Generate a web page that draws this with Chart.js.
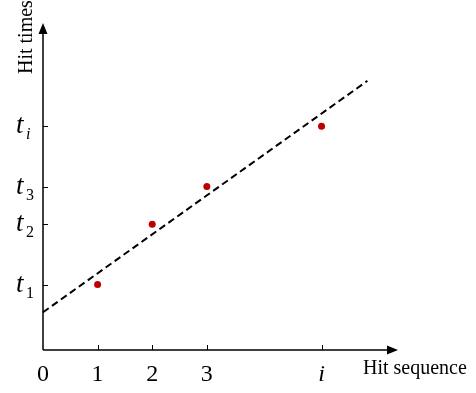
<!DOCTYPE html>
<html>
<head>
<meta charset="utf-8">
<script src="https://cdn.jsdelivr.net/npm/chart.js@4"></script>
<style>
  html, body { margin: 0; padding: 0; background: #fff; }
  canvas { display: block; }
</style>
</head>
<body>
<canvas id="hitChart" width="476" height="393"></canvas>
<script>
// measured hits (x = hit sequence, y = hit time)
const hitSeq = [1, 2, 3, 5.1];
const hitTimes = [1.3, 2.5, 3.25, 4.45];
// dashed fit line endpoints
const fitX = [0, 5.94];
const fitY = [0.75, 5.35];
// axis ticks
const xTicks = [0, 1, 2, 3, 5.1];
const xTickLabels = ['0', '1', '2', '3', 'i'];
const yTicks = [1.3, 2.5, 3.25, 4.45];
const yTickSubs = ['1', '2', '3', 'i'];
const xTitle = 'Hit sequence';
const yTitle = 'Hit times';

const serif = "'Liberation Serif', 'Times New Roman', serif";

const arrowAxes = {
  id: 'arrowAxes',
  beforeDatasetsDraw(chart) {
    const { ctx, chartArea: a, scales: { x, y } } = chart;
    const x0 = x.getPixelForValue(0);
    const y0 = y.getPixelForValue(0);
    ctx.save();
    ctx.strokeStyle = '#000';
    ctx.fillStyle = '#000';

    // axis lines
    ctx.lineWidth = 1.5;
    ctx.beginPath();
    ctx.moveTo(x0, y0); ctx.lineTo(a.right - 8, y0);
    ctx.moveTo(x0, y0); ctx.lineTo(x0, a.top + 8);
    ctx.stroke();

    // arrow heads
    ctx.beginPath();
    ctx.moveTo(a.right, y0); ctx.lineTo(a.right - 11, y0 - 4.5); ctx.lineTo(a.right - 11, y0 + 4.5); ctx.closePath();
    ctx.moveTo(x0, a.top); ctx.lineTo(x0 - 4.5, a.top + 11); ctx.lineTo(x0 + 4.5, a.top + 11); ctx.closePath();
    ctx.fill();

    // tick marks, pointing into the plot
    ctx.lineWidth = 1;
    ctx.beginPath();
    xTicks.forEach(v => {
      if (v === 0) return;
      const px = Math.round(x.getPixelForValue(v)) + 0.5;
      ctx.moveTo(px, y0); ctx.lineTo(px, y0 - 5);
    });
    yTicks.forEach(v => {
      const py = Math.round(y.getPixelForValue(v)) + 0.5;
      ctx.moveTo(x0, py); ctx.lineTo(x0 + 5, py);
    });
    ctx.stroke();

    // x tick labels
    ctx.textAlign = 'center';
    ctx.textBaseline = 'alphabetic';
    xTicks.forEach((v, i) => {
      const lbl = xTickLabels[i];
      ctx.font = (lbl === 'i' ? 'italic ' : '') + '24px ' + serif;
      ctx.fillText(lbl, x.getPixelForValue(v), y0 + 31);
    });

    // y tick labels: italic t with subscript
    ctx.textAlign = 'left';
    yTicks.forEach((v, i) => {
      const py = y.getPixelForValue(v);
      ctx.font = 'italic 27px ' + serif;
      ctx.fillText('t', 16, py + 7);
      const sub = yTickSubs[i];
      ctx.font = (sub === 'i' ? 'italic ' : '') + '16px ' + serif;
      ctx.fillText(sub, 26, py + 13);
    });

    // axis titles
    ctx.font = '20px ' + serif;
    ctx.fillText(xTitle, a.right - 35, y0 + 24);
    ctx.save();
    ctx.translate(a.left - 11, 74);
    ctx.rotate(-Math.PI / 2);
    ctx.fillText(yTitle, 0, 0);
    ctx.restore();

    ctx.restore();
  }
};

new Chart(document.getElementById('hitChart'), {
  type: 'scatter',
  data: {
    datasets: [
      {
        label: 'fit',
        data: fitX.map((v, i) => ({ x: v, y: fitY[i] })),
        showLine: true,
        borderColor: '#000',
        borderWidth: 2,
        borderDash: [7, 4],
        pointRadius: 0,
        clip: false
      },
      {
        label: 'hits',
        data: hitSeq.map((v, i) => ({ x: v, y: hitTimes[i] })),
        backgroundColor: '#c00000',
        borderColor: '#c00000',
        pointRadius: 3.5,
        borderWidth: 0,
        clip: false
      }
    ]
  },
  options: {
    responsive: false,
    animation: false,
    layout: { padding: { left: 43, top: 23, right: 78, bottom: 43 } },
    plugins: { legend: { display: false }, tooltip: { enabled: false } },
    scales: {
      x: { type: 'linear', min: 0, max: 6.5, display: false },
      y: { type: 'linear', min: 0, max: 6.5, display: false }
    }
  },
  plugins: [arrowAxes]
});
</script>
</body>
</html>
